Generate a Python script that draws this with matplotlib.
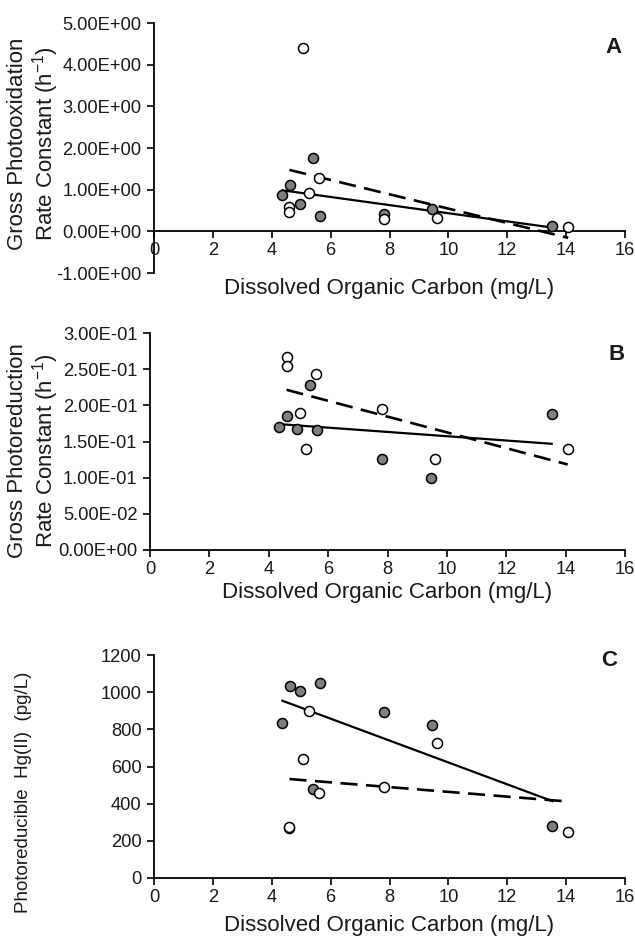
import numpy as np
import matplotlib
matplotlib.use("Agg")
import matplotlib.pyplot as plt
from matplotlib.ticker import FuncFormatter

plt.rcParams["font.family"] = ["Liberation Sans", "DejaVu Sans"]
plt.rcParams["mathtext.fontset"] = "custom"
plt.rcParams["mathtext.rm"] = "Liberation Sans"
plt.rcParams["mathtext.it"] = "Liberation Sans:italic"
plt.rcParams["mathtext.bf"] = "Liberation Sans:bold"

# DOC (mg/L) of the sites, filled and open symbols
doc_filled = [4.36, 4.62, 4.96, 5.39, 5.63, 7.82, 9.45, 13.53]
doc_open = [4.60, 4.60, 5.05, 5.27, 5.60, 7.83, 9.60, 14.07]

# A: gross photooxidation rate constant (h-1)
oxid_filled = [0.87, 1.11, 0.65, 1.76, 0.37, 0.41, 0.53, 0.14]
oxid_open = [0.59, 0.46, 4.41, 0.91, 1.29, 0.30, 0.32, 0.10]

# B: gross photoreduction rate constant (h-1)
red_filled = [0.1707, 0.1846, 0.167, 0.228, 0.166, 0.126, 0.100, 0.188]
red_open = [0.2667, 0.2547, 0.190, 0.140, 0.2437, 0.1947, 0.126, 0.140]

# C: photoreducible Hg(II) (pg/L)
hg_filled = [832, 1033, 1006, 481, 1051, 895, 826, 278]
hg_open = [270, 274, 641, 898, 458, 487, 729, 250]

W, H = 635, 936
fig = plt.figure(figsize=(W / 100, H / 100), dpi=100)

tick_fs = 13.2
label_fs = 16
txt_color = "#1a1a1a"


def box(left, right, top, bottom):
    return [left / W, 1 - bottom / H, (right - left) / W, (bottom - top) / H]


def sci(v, pos):
    return f"{v:.2E}"


def draw_panel(ax, yf, yo, ylim, yticks, fmt, xlabel_y, letter, letter_xy, zero_axis=False):
    ax.set_xlim(0, 16)
    ax.set_ylim(*ylim)
    ax.set_xticks(range(0, 17, 2))
    ax.set_yticks(yticks)
    if fmt is not None:
        ax.yaxis.set_major_formatter(FuncFormatter(fmt))
    for s in ["top", "right"]:
        ax.spines[s].set_visible(False)
    for s in ["left", "bottom"]:
        ax.spines[s].set_color("black")
        ax.spines[s].set_linewidth(1.3)
    if zero_axis:
        ax.spines["bottom"].set_position(("data", 0))
    ax.tick_params(direction="out", length=5, width=1.2, labelsize=tick_fs,
                   colors="black", labelcolor=txt_color)
    ax.tick_params(axis="x", pad=3)
    ax.tick_params(axis="y", pad=4)

    # trend lines (least squares), solid for filled, dashed for open
    xf = np.array(doc_filled)
    xo = np.array(doc_open)
    pf = np.polyfit(xf, yf, 1)
    po = np.polyfit(xo, yo, 1)
    xr = np.array([xf.min(), xf.max()])
    ax.plot(xr, np.polyval(pf, xr), color="black", lw=1.6, zorder=2)
    xr = np.array([xo.min(), xo.max()])
    ax.plot(xr, np.polyval(po, xr), color="black", lw=1.9,
            linestyle=(0, (6.5, 3.2)), zorder=2)

    ax.scatter(xf, yf, s=52, facecolor="#7f7f7f", edgecolor="black",
               linewidth=1.1, zorder=3, clip_on=False)
    ax.scatter(xo, yo, s=52, facecolor="white", edgecolor="black",
               linewidth=1.1, zorder=3, clip_on=False)

    ax.set_xlabel("Dissolved Organic Carbon (mg/L)", fontsize=label_fs, color=txt_color)
    ax.xaxis.set_label_coords(0.5, xlabel_y)
    ax.xaxis.label.set_va("center")
    ax.text(letter_xy[0], letter_xy[1], letter, transform=ax.transAxes,
            fontsize=16, fontweight="bold", ha="center", va="center", color=txt_color)


def ylabel(px, py, text, size):
    fig.text(px / W, 1 - py / H, text, rotation=90, ha="center", va="center",
             multialignment="center", fontsize=size, color=txt_color, linespacing=1.05)


axA = fig.add_axes(box(154, 625, 23, 273))
draw_panel(axA, oxid_filled, oxid_open, (-1, 5), np.arange(-1, 5.1, 1), sci,
           -0.06, "A", (0.975, 0.904), zero_axis=True)
ylabel(34, 144, "Gross Photooxidation\nRate Constant (h$^{-1}$)", label_fs)

axB = fig.add_axes(box(150, 625, 333, 550))
draw_panel(axB, red_filled, red_open, (0, 0.3), np.arange(0, 0.301, 0.05), sci,
           -0.198, "B", (0.983, 0.899))
ylabel(34, 451, "Gross Photoreduction\nRate Constant (h$^{-1}$)", label_fs)

axC = fig.add_axes(box(154, 625, 655, 878))
draw_panel(axC, hg_filled, hg_open, (0, 1200), range(0, 1201, 200), None,
           -0.211, "C", (0.966, 0.975))
ylabel(24, 792, "Photoreducible  Hg(II)  (pg/L)", 13.5)

fig.savefig("out.png", dpi=100)
